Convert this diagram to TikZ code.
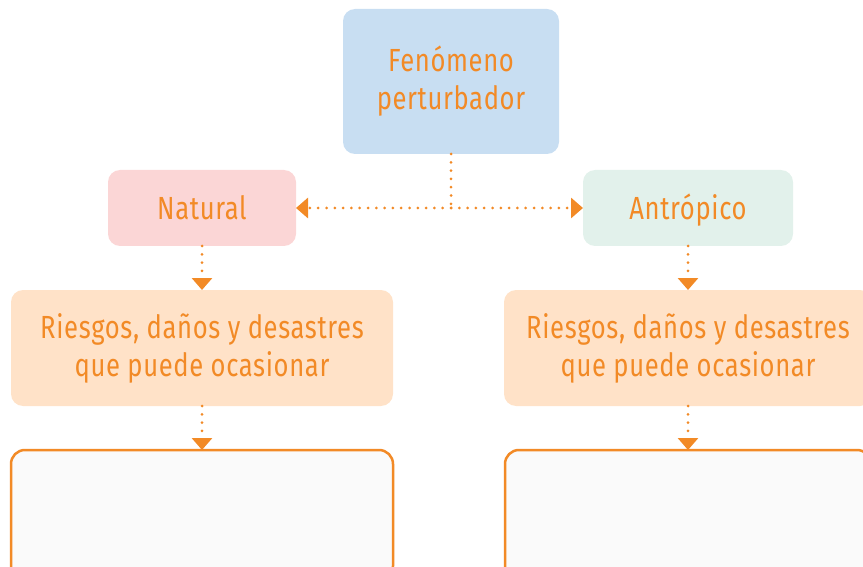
\documentclass[tikz,border=0pt]{standalone}
\usepackage{fontspec}
\setmainfont{Fira Sans}[FakeStretch=0.80, LetterSpace=2]
\usetikzlibrary{arrows.meta, positioning}
\definecolor{fenblue}{HTML}{C8DEF2}
\definecolor{natpink}{HTML}{FBD6D6}
\definecolor{antgreen}{HTML}{E2F1EB}
\definecolor{riskpeach}{HTML}{FFE2C8}
\definecolor{linorange}{HTML}{F28A26}
\definecolor{emptygray}{HTML}{FAFAFA}
\tikzset{
  box/.style={
    rectangle, rounded corners=12pt, draw=none, fill=#1,
    align=center, inner sep=0pt, outer sep=0pt,
    text=linorange, font=\fontsize{32}{38}\selectfont
  },
  onebox/.style={
    box=#1, minimum height=76pt, text height=22pt, text depth=0pt
  },
  ansbox/.style={
    rectangle, rounded corners=14pt, draw=linorange, fill=emptygray,
    line width=2.5pt, inner sep=0pt, outer sep=0pt,
    minimum height=130pt
  },
  arrow/.style={
    -{Triangle[width=20pt,length=12pt]}, linorange,
    line width=3pt, line cap=round, dash pattern=on 0pt off 8.3pt
  },
  dotline/.style={
    linorange, line width=3pt, line cap=round,
    dash pattern=on 0pt off 8.3pt
  }
}
\begin{document}
\begin{tikzpicture}[x=1pt, y=-1pt, node distance=44pt]
  \useasboundingbox (0,0) rectangle (863,567);
  \clip (0,0) rectangle (863,567);
  \node[box=fenblue, minimum width=216pt, minimum height=145pt]
    (fen) at (451,81.5) {Fenómeno\\perturbador};
  \node[onebox=natpink, minimum width=188pt]
    (nat) at (202,208) {Natural};
  \node[onebox=antgreen, minimum width=210pt]
    (ant) at (688,208) {Antrópico};
  \node[box=riskpeach, minimum width=382pt, minimum height=116pt,
        below=of nat] (rnat)
    {Riesgos, daños y desastres\\que puede ocasionar};
  \node[box=riskpeach, minimum width=368pt, minimum height=116pt,
        below=of ant] (rant)
    {Riesgos, daños y desastres\\que puede ocasionar};
  \node[ansbox, minimum width=382pt, below=of rnat.south,
        anchor=north] (anat) {};
  \node[ansbox, minimum width=366pt, below=of rant.south,
        anchor=north] (aant) {};
  \coordinate (split) at (fen.south |- nat.east);
  \draw[dotline] (fen.south) -- (split);
  \draw[arrow] (split) -- (nat.east);
  \draw[arrow] (split) -- (ant.west);
  \foreach \a/\b in {nat/rnat, rnat/anat, ant/rant, rant/aant}{%
    \draw[arrow] (\a.south) -- (\b.north);}
\end{tikzpicture}
\end{document}
